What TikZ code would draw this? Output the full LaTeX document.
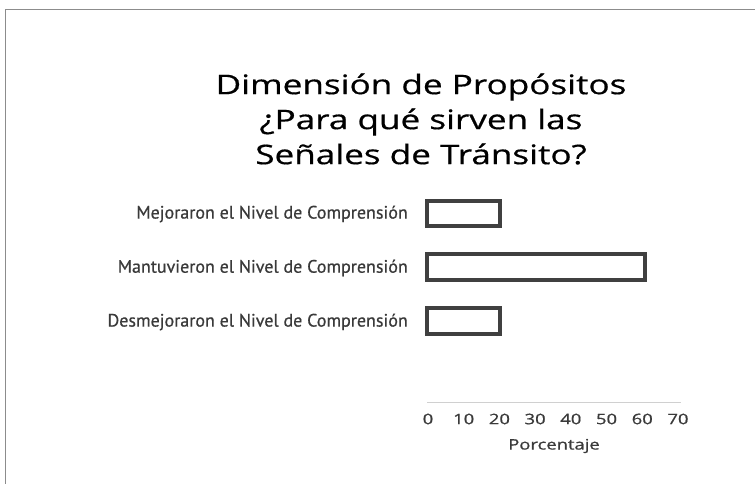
\documentclass[tikz,border=0pt]{standalone}
\usepackage{fontspec}
\setmainfont{Open Sans}
\newfontfamily\titlefont[FakeBold=0.5]{Open Sans}
\newfontfamily\tickfont[FakeBold=0.6]{Open Sans}
\newfontfamily\labfont[FakeBold=0.6]{PT Sans}
\definecolor{framegray}{HTML}{8C8C8C}
\definecolor{bargray}{HTML}{404040}
\definecolor{axisgray}{HTML}{D0D0D0}
\definecolor{textgray}{HTML}{3A3A3A}
\begin{document}
\begin{tikzpicture}[x=1pt,y=-1pt,
  bar/.style={draw=bargray,line width=3.5pt,fill=white},
  catlabel/.style={anchor=east,inner sep=0pt,font=\labfont\fontsize{18}{20}\selectfont,text=textgray},
  ticklabel/.style={anchor=center,inner sep=0pt,xscale=1.27,transform shape,font=\tickfont\fontsize{14.5}{16}\selectfont,text=textgray},
  titletext/.style={align=center,inner sep=0pt,xscale=1.3,transform shape,font=\titlefont\fontsize{27}{35}\selectfont,text=black}]
\useasboundingbox (0,0) rectangle (755,484);
\fill[white] (0,0) rectangle (755,484);
\draw[framegray,line width=1.5pt] (5.5,484) -- (5.5,9.5) -- (755,9.5);
\node[titletext] (title) at (421,119) {Dimensión de Propósitos\\¿Para qué sirven las\\Señales de Tránsito?};
\node[catlabel] (l1) at (408,214) {Mejoraron el Nivel de Comprensión};
\node[catlabel] (l2) at (408,268) {Mantuvieron el Nivel de Comprensión};
\node[catlabel] (l3) at (408,322) {Desmejoraron el Nivel de Comprensión};
\draw[bar] (427,201) rectangle (500,226);
\draw[bar] (427,254) rectangle (645,280);
\draw[bar] (427,308) rectangle (500,334);
\coordinate (a0) at (427,402);
\coordinate (a1) at (681,402);
\draw[axisgray,line width=1pt] (a0) -- (a1);
\foreach \v [count=\i from 0] in {0,10,20,30,40,50,60,70}{
  \node[ticklabel] (t\i) at ({428+\i*35.71},419) {\v};
}
\node[ticklabel,font=\tickfont\fontsize{14.5}{16}\selectfont] (xlab) at (554,446) {Porcentaje};
\end{tikzpicture}
\end{document}
